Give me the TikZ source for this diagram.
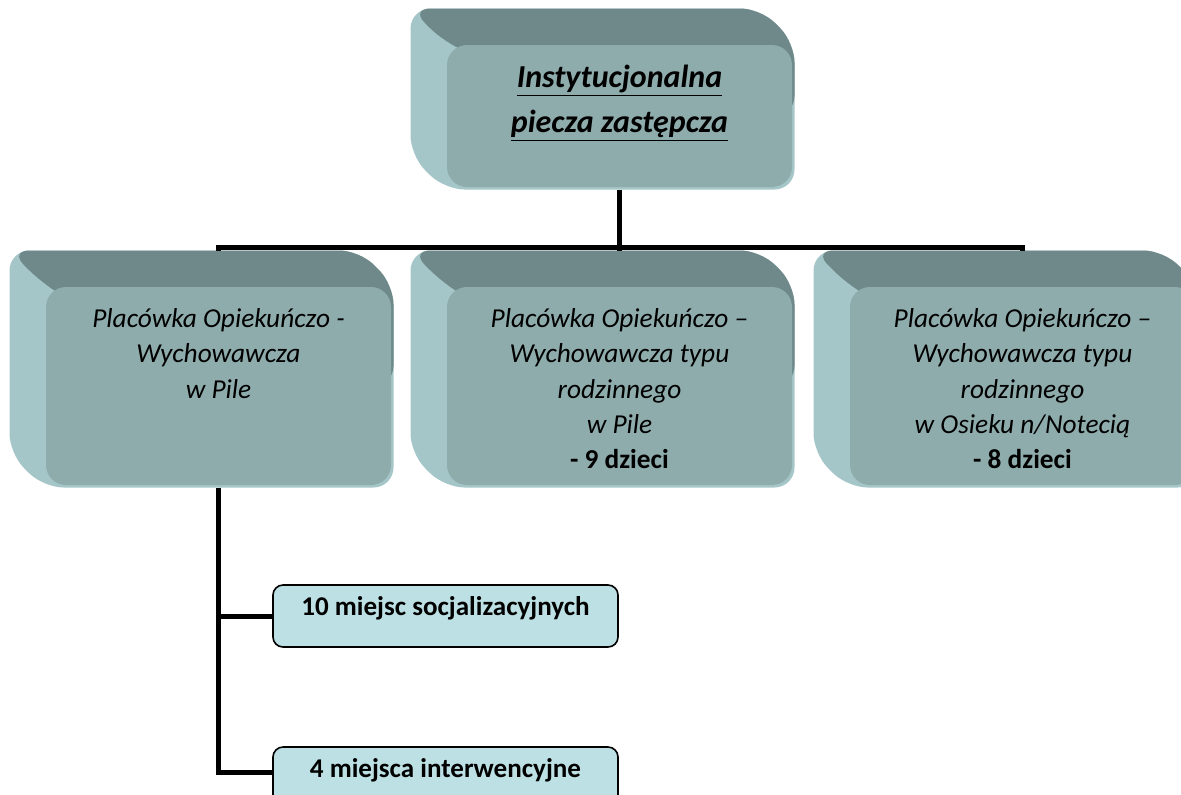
\documentclass[tikz,border=0pt]{standalone}
\usepackage{fontspec}
\setmainfont{Carlito}
\usepackage{xcolor}

\definecolor{facec}{HTML}{8FACAD}
\definecolor{topc}{HTML}{6F8889}
\definecolor{sidec}{HTML}{A5C6C8}
\definecolor{smallc}{HTML}{BCE0E3}

\tikzset{
  back/.style={rectangle,minimum width=258.75pt,inner sep=0pt},
  face/.style={rectangle,rounded corners=15pt,fill=facec,minimum width=258.75pt,inner sep=0pt},
  deep/.style={xshift=25.5pt,yshift=-25.5pt},
  boxtext/.style={align=center,inner sep=0pt,anchor=north,font={\fontsize{20.5}{26.5}\selectfont\itshape}},
  toptext/.style={align=center,inner sep=0pt,anchor=north,font={\fontsize{24}{33.75}\selectfont\bfseries\itshape}},
  small/.style={rectangle,rounded corners=7.5pt,draw,line width=1.2pt,fill=smallc,minimum width=258.75pt,minimum height=46.5pt,inner sep=0pt,text height=14pt,text depth=14.75pt,font={\fontsize{20.3}{24}\selectfont\bfseries}}
}

\begin{document}
\begin{tikzpicture}[x=0.75pt,y=-0.75pt,line width=3.75pt]
\clip (0,0) rectangle (1181,794);

\node (P0b)[back,minimum height=106.5pt] at (585.5,82) {};
\node (P1b)[back,minimum height=148.5pt] at (184.5,352) {};
\node (P2b)[back,minimum height=148.5pt] at (585.5,352) {};
\node (P3b)[back,minimum height=148.5pt] at (988.5,352) {};

% bryly
\foreach \n in {0,1,2,3}{
  \fill[sidec,rounded corners=15pt] (P\n b.north west) -- (P\n b.north east) -- ([deep]P\n b.north east)
    -- ([deep]P\n b.south east) -- ([deep]P\n b.south west) -- (P\n b.south west) -- cycle;
  \fill[topc,rounded corners=15pt] ([deep]P\n b.center) -- ([deep]P\n b.north west) -- (P\n b.north west)
    -- (P\n b.north east) -- ([deep]P\n b.north east) -- ([deep]P\n b.east) -- cycle;
}

\node (P0)[face,minimum height=106.5pt] at (619.5,116) {};
\node (P1)[face,minimum height=148.5pt] at (218.5,386) {};
\node (P2)[face,minimum height=148.5pt] at (619.5,386) {};
\node (P3)[face,minimum height=148.5pt] at (1022.5,386) {};

\node (T0)[toptext] at (619.5,63) {\underline{Instytucjonalna}\\\underline{piecza zastępcza}};
\node (T1)[boxtext] at (218.5,306) {Placówka Opiekuńczo -\\Wychowawcza\\w Pile};
\node (T2)[boxtext] at (619.5,306) {Placówka Opiekuńczo –\\Wychowawcza typu\\rodzinnego\\w Pile\\\textbf{\upshape - 9 dzieci}};
\node (T3)[boxtext] at (1022.5,306) {Placówka Opiekuńczo –\\Wychowawcza typu\\rodzinnego\\w Osieku n/Notecią\\\textbf{\upshape - 8 dzieci}};

\node (M1)[small] at (445.5,616) {10 miejsc socjalizacyjnych};
\node (M2)[small] at (445.5,778) {4 miejsca interwencyjne};

\coordinate (J) at (619.5,247);
\draw (P0) -- (J);
\draw (P1b.north -| P1.north) |- (J) -| (P3b.north -| P3.north);
\draw (J) -- (J |- P2b.north);

\draw (P1.south) |- (M1.west);
\draw (P1.south) |- ([yshift=4.5pt]M2.west);
\end{tikzpicture}
\end{document}
